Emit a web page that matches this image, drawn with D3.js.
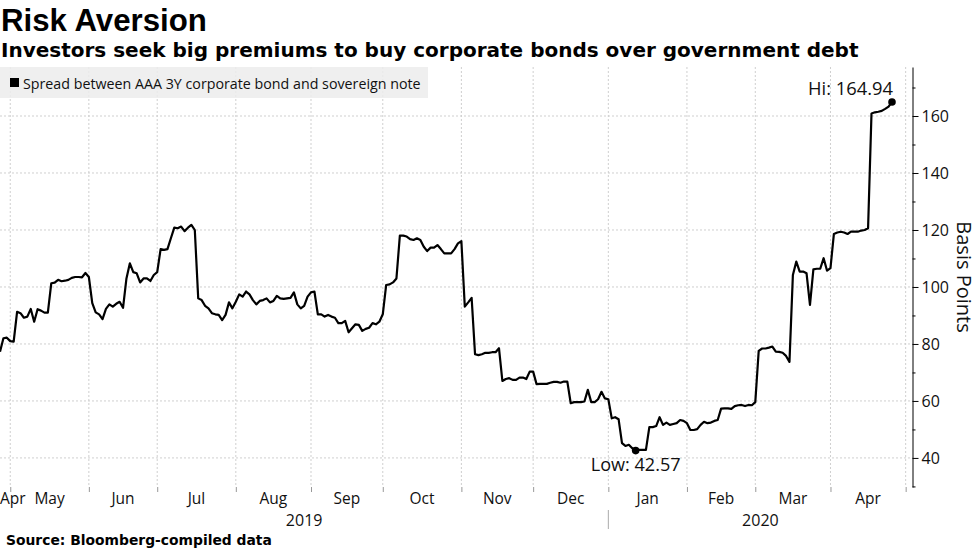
<!DOCTYPE html>
<html><head><meta charset="utf-8">
<script src="https://cdn.jsdelivr.net/npm/d3@7"></script>
<style>body{margin:0;background:#fff;} svg{display:block;}</style>
</head><body><svg id="c" width="977" height="549"></svg>
<script>
const title = "Risk Aversion";
const subtitle = "Investors seek big premiums to buy corporate bonds over government debt";
const seriesName = "Spread between AAA 3Y corporate bond and sovereign note";
const sourceText = "Source: Bloomberg-compiled data";
const axisTitle = "Basis Points";

// one value per weekday, starting at startDate
const startDate = "2019-04-26";
const endDate = "2020-05-05";
const spread = [
77.3,82.0,82.2,81.0,80.8,91.3,90.8,89.2,89.6,92.3,
87.8,92.2,91.7,91.0,91.0,101.3,101.5,102.5,102.0,102.2,
102.5,103.2,103.5,103.5,103.4,104.9,103.5,94.3,91.1,90.4,
88.7,92.3,93.9,93.1,94.1,94.8,92.7,103.0,108.3,105.2,
104.8,101.6,103.0,103.0,102.1,104.2,105.2,113.3,113.0,113.3,
117.1,120.8,120.6,121.2,119.6,120.8,121.8,120.0,96.0,95.4,
93.4,92.5,90.8,90.4,90.2,88.4,90.2,94.6,92.5,94.8,
97.4,96.6,98.4,97.4,95.4,93.9,95.1,95.4,96.0,94.6,
95.1,96.9,96.0,95.8,96.0,96.2,98.1,93.9,92.5,93.4,
96.6,98.1,98.4,90.4,90.4,89.6,90.2,89.6,89.2,87.3,
87.3,88.1,84.1,85.5,86.9,86.7,84.6,85.3,85.7,87.3,
86.9,87.8,90.4,100.7,100.9,101.6,103.0,118.0,118.0,117.7,
116.8,116.5,117.1,116.5,114.1,112.6,113.8,113.8,114.7,113.3,
111.8,111.8,111.8,113.3,115.3,116.1,93.1,94.6,96.2,76.4,
76.1,76.4,76.9,76.9,77.1,77.1,78.5,67.0,67.7,68.0,
67.4,67.4,68.2,68.2,67.7,70.3,70.3,65.9,66.0,66.0,
66.0,66.4,66.7,66.7,66.4,66.8,66.8,59.2,59.6,59.6,
59.6,59.8,63.9,59.6,59.6,60.6,63.2,60.9,60.6,53.9,
54.3,53.6,45.2,44.2,44.6,43.4,42.57,42.8,42.8,42.8,
50.8,50.8,51.2,54.3,51.6,52.4,51.6,51.9,52.2,53.3,
53.0,52.2,49.8,49.8,50.1,51.6,52.7,52.2,52.4,53.0,
53.3,57.3,57.4,57.4,57.2,58.2,58.5,58.6,58.2,58.6,
58.5,59.6,77.6,78.4,78.4,78.7,79.1,77.3,77.2,76.9,
75.8,73.7,104.2,108.9,105.4,105.4,104.8,93.7,106.2,106.4,
106.4,110.1,105.7,106.6,118.6,119.1,119.4,119.1,118.6,119.4,
119.4,119.4,119.8,120.0,120.6,160.9,161.3,161.5,161.8,162.5,
163.3,164.94
];

const monthStarts = ["2019-04-26","2019-05-01","2019-06-01","2019-07-01","2019-08-01","2019-09-01","2019-10-01",
  "2019-11-01","2019-12-01","2020-01-01","2020-02-01","2020-03-01","2020-04-01","2020-05-01"];
const monthLabels = ["Apr","May","Jun","Jul","Aug","Sep","Oct","Nov","Dec","Jan","Feb","Mar","Apr"];
const yearStarts = ["2019-04-26","2020-01-01","2020-05-05"];
const yearLabels = ["2019","2020"];
const yTicks = [40,60,80,100,120,140,160];
const yMinorTicks = [30,50,70,90,110,130,150,170];
const yDomain = [29.8, 177.2];

const svg = d3.select("#c");
const FONT = "'Open Sans', 'Noto Sans', sans-serif";
const parse = d3.timeParse("%Y-%m-%d");
const weekdays = d3.timeDay.range(parse(startDate), d3.timeDay.offset(parse(endDate), 1))
  .filter(d => d.getDay() !== 0 && d.getDay() !== 6).map(Number);
const wd = s => d3.bisectLeft(weekdays, +parse(s));

const plot = {left: 0, right: 912.5, top: 67, bottom: 487};
const x = d3.scaleLinear().domain([0, wd(endDate)]).range([plot.left, plot.right]);
const y = d3.scaleLinear().domain(yDomain).range([plot.bottom, plot.top]);

function fit(sel, w) {
  const cur = sel.node().getComputedTextLength();
  const fs = parseFloat(sel.attr("font-size"));
  sel.attr("font-size", (fs * w / cur).toFixed(2));
}

// gridlines
const bounds = monthStarts.slice(1).map(wd);
svg.append("g").selectAll("line").data(bounds).join("line")
  .attr("x1", d => x(d)).attr("x2", d => x(d))
  .attr("y1", plot.top).attr("y2", plot.bottom)
  .attr("stroke", "#cfcfcf").attr("stroke-dasharray", "2,2");
svg.append("g").selectAll("line").data(yTicks).join("line")
  .attr("x1", plot.left).attr("x2", plot.right)
  .attr("y1", d => y(d)).attr("y2", d => y(d))
  .attr("stroke", "#cfcfcf").attr("stroke-dasharray", "2,2");

// legend
svg.append("rect").attr("x", 0).attr("y", 67).attr("width", 428).attr("height", 31)
  .attr("fill", "#ececec").attr("fill-opacity", 0.85);
svg.append("rect").attr("x", 10).attr("y", 78).attr("width", 9).attr("height", 9).attr("fill", "#000");
const lt = svg.append("text").attr("x", 23).attr("y", 88.5).attr("font-family", FONT)
  .attr("font-size", 14).attr("fill", "#111").text(seriesName);
fit(lt, 398);

// line
const line = d3.line().x((d, i) => x(i)).y(d => y(d));
svg.append("path").datum(spread).attr("d", line).attr("fill", "none")
  .attr("stroke", "#000").attr("stroke-width", 2.2).attr("stroke-linejoin", "round");

// hi / low
const hiI = d3.maxIndex(spread), loI = d3.minIndex(spread);
const f2 = d3.format(".2f");
svg.append("circle").attr("cx", x(hiI)).attr("cy", y(spread[hiI])).attr("r", 3.8).attr("fill", "#000");
svg.append("circle").attr("cx", x(loI)).attr("cy", y(spread[loI])).attr("r", 3.8).attr("fill", "#000");
const hiT = svg.append("text").attr("x", x(hiI) + 1).attr("y", 95).attr("text-anchor", "end")
  .attr("font-family", FONT).attr("font-size", 18).attr("fill", "#111").text("Hi: " + f2(spread[hiI]));
fit(hiT, 85);
const loT = svg.append("text").attr("x", x(loI)).attr("y", 471).attr("text-anchor", "middle")
  .attr("font-family", FONT).attr("font-size", 18).attr("fill", "#111").text("Low: " + f2(spread[loI]));
fit(loT, 90);

// y axis
const yAxis = svg.append("g").attr("transform", `translate(${plot.right},0)`)
  .call(d3.axisRight(y).tickValues(yTicks).tickSize(6).tickSizeOuter(0).tickPadding(3));
yAxis.select(".domain").attr("stroke", "#000").attr("stroke-width", 1);
yAxis.selectAll(".tick line").attr("stroke", "#000");
yAxis.selectAll(".tick text").attr("font-family", FONT).attr("font-size", 16).attr("fill", "#111");
const yMinor = svg.append("g").attr("transform", `translate(${plot.right},0)`)
  .call(d3.axisRight(y).tickValues(yMinorTicks).tickSize(3).tickFormat(""));
yMinor.select(".domain").remove();
yMinor.selectAll(".tick line").attr("stroke", "#000");

svg.append("text").attr("transform", "translate(957,277) rotate(90)")
  .attr("text-anchor", "middle").attr("font-family", FONT).attr("font-size", 20)
  .attr("fill", "#111").text(axisTitle);

// x axis ticks
const xAxis = svg.append("g").attr("transform", `translate(0,${plot.bottom})`)
  .call(d3.axisBottom(x).tickValues(bounds).tickSize(5).tickFormat(""));
xAxis.select(".domain").remove();
xAxis.selectAll(".tick line").attr("stroke", "#999");

const mIdx = monthStarts.map(wd);
monthLabels.forEach((m, k) => {
  const a = x(mIdx[k]), b = x(mIdx[k + 1]);
  const t = svg.append("text").attr("y", 504).attr("font-family", FONT).attr("font-size", 15.5)
    .attr("fill", "#111").attr("text-anchor", "middle").text(m);
  const w = t.node().getComputedTextLength();
  let cx = (a + b) / 2;
  if (cx - w / 2 < 0) cx = w / 2;
  t.attr("x", cx);
});
const yIdx = yearStarts.map(wd);
yearLabels.forEach((yr, k) => {
  svg.append("text").attr("x", (x(yIdx[k]) + x(Math.min(yIdx[k + 1], wd(endDate)))) / 2).attr("y", 526)
    .attr("font-family", FONT).attr("font-size", 16).attr("fill", "#111")
    .attr("text-anchor", "middle").text(yr);
});
svg.append("line").attr("x1", x(yIdx[1])).attr("x2", x(yIdx[1])).attr("y1", 510).attr("y2", 529)
  .attr("stroke", "#aaa");

// titles
const tt = svg.append("text").attr("x", 1).attr("y", 31).attr("font-family", "'Liberation Sans', Arial, sans-serif")
  .attr("font-weight", "bold").attr("font-size", 29).attr("fill", "#000").text(title);
fit(tt, 206);
const st = svg.append("text").attr("x", 1).attr("y", 57).attr("font-family", "'DejaVu Sans', Verdana, sans-serif")
  .attr("font-weight", "bold").attr("font-size", 19).attr("fill", "#000").text(subtitle);
fit(st, 858);
const so = svg.append("text").attr("x", 6).attr("y", 545).attr("font-family", "'DejaVu Sans', Verdana, sans-serif")
  .attr("font-weight", "bold").attr("font-size", 13).attr("fill", "#000").text(sourceText);
fit(so, 266);
</script></body></html>
